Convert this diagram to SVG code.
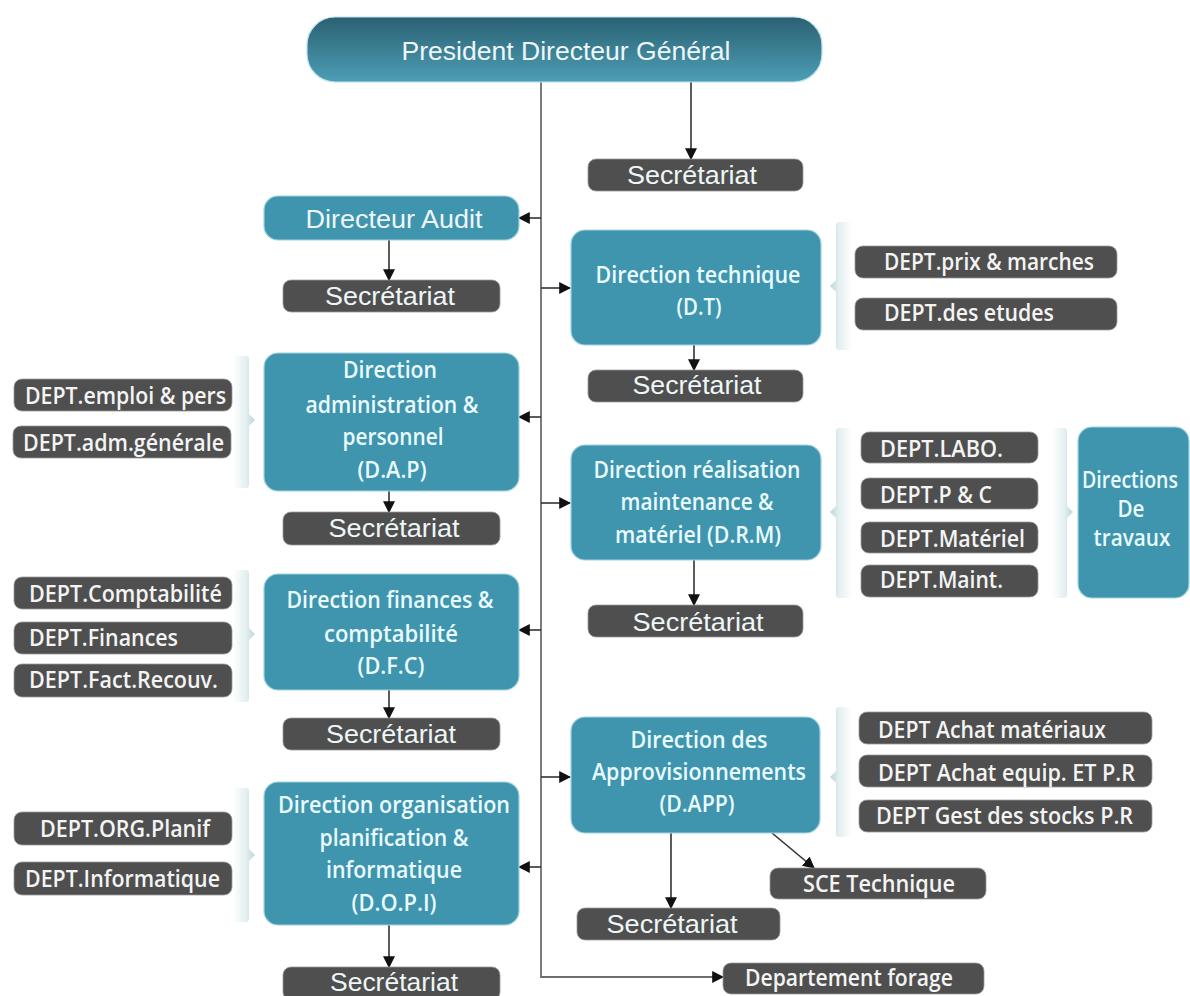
<svg xmlns="http://www.w3.org/2000/svg" width="1190" height="996" viewBox="0 0 1190 996">
<defs>
<linearGradient id="gPdg" x1="0" y1="0" x2="0" y2="1">
<stop offset="0" stop-color="#2b6172"/>
<stop offset="1" stop-color="#4c9eb6"/>
</linearGradient>
<linearGradient id="gBrL" x1="0" y1="0" x2="1" y2="0">
<stop offset="0" stop-color="#ffffff"/>
<stop offset="0.6" stop-color="#e3eff0"/>
<stop offset="1" stop-color="#b9d6da"/>
</linearGradient>
<linearGradient id="gBrR" x1="0" y1="0" x2="1" y2="0">
<stop offset="0" stop-color="#b9d6da"/>
<stop offset="0.4" stop-color="#e3eff0"/>
<stop offset="1" stop-color="#ffffff"/>
</linearGradient>
<marker id="ah" viewBox="0 0 10 10" refX="9" refY="5" markerWidth="12" markerHeight="12" markerUnits="userSpaceOnUse" orient="auto">
<path d="M0,0 L10,5 L0,10 z" fill="#111"/>
</marker>
<style>
.dir{fill:#3f94ae;stroke:#9fd3e0;stroke-width:1.2}
.dk{fill:#4f4f4f;stroke:#9a9a9a;stroke-width:0.8}
.tl{fill:#e9fbfe;font-family:"Open Sans","Noto Sans",sans-serif;font-size:23px;font-weight:600;text-anchor:middle}
.tg{fill:#eef6f8;font-family:"Liberation Sans",Arial,sans-serif;font-size:25px;text-anchor:middle}
.td{fill:#f4f4f4;font-family:"Open Sans","Noto Sans",sans-serif;font-size:23px;font-weight:600}
.tdm{text-anchor:middle}
.ln{fill:none;stroke:#6e6e6e;stroke-width:1.8}
.la{fill:none;stroke:#333;stroke-width:1.6;marker-end:url(#ah)}
</style>
</defs>
<rect width="1190" height="996" fill="#ffffff"/>

<!-- connectors -->
<g id="connectors">
<path class="ln" d="M541,82 V977 H712"/>
<path class="la" d="M712,977 H723"/>
<path class="la" d="M541,218 H519"/>
<path class="la" d="M541,288 H570"/>
<path class="la" d="M541,417 H519"/>
<path class="la" d="M541,503 H570"/>
<path class="la" d="M541,630 H519"/>
<path class="la" d="M541,777 H570"/>
<path class="la" d="M541,867 H519"/>
<path class="la" d="M691,82 V159"/>
<path class="la" d="M389,240 V280"/>
<path class="la" d="M389,491 V512"/>
<path class="la" d="M389,690 V718"/>
<path class="la" d="M389,925 V967"/>
<path class="la" d="M694,345 V370"/>
<path class="la" d="M694,560 V605"/>
<path class="la" d="M671,833 V908"/>
<path class="la" d="M772,833 L814,868"/>
</g>

<!-- brackets -->
<g id="brackets">
<path d="M233,356 H246 Q249,356 249,360 V414 L255,420 L249,426 V484 Q249,488 246,488 H233 z" fill="url(#gBrL)"/>
<path d="M233,570 H246 Q249,570 249,574 V628 L255,634 L249,640 V698 Q249,702 246,702 H233 z" fill="url(#gBrL)"/>
<path d="M233,788 H246 Q249,788 249,792 V849 L255,855 L249,861 V918 Q249,922 246,922 H233 z" fill="url(#gBrL)"/>
<path d="M852,222 H839 Q836,222 836,226 V280 L830,286 L836,292 V346 Q836,350 839,350 H852 z" fill="url(#gBrR)"/>
<path d="M852,428 H839 Q836,428 836,432 V506 L830,512 L836,518 V594 Q836,598 839,598 H852 z" fill="url(#gBrR)"/>
<path d="M1052,428 H1064 Q1067,428 1067,432 V506 L1073,512 L1067,518 V594 Q1067,598 1064,598 H1052 z" fill="url(#gBrL)"/>
<path d="M852,707 H839 Q836,707 836,711 V771 L830,777 L836,783 V833 Q836,837 839,837 H852 z" fill="url(#gBrR)"/>
</g>

<g id="pdg">
<rect x="307" y="17" width="515" height="65" rx="28" fill="url(#gPdg)" stroke="#b9e3ec" stroke-width="1.2"/>
<text class="tg" x="566" y="60" font-size="28" textLength="329" lengthAdjust="spacingAndGlyphs">President Directeur Général</text>
</g>
<g id="sec-pdg">
<rect class="dk" x="588" y="159" width="215" height="32" rx="8"/>
<text class="tg" x="692" y="184" textLength="130" lengthAdjust="spacingAndGlyphs">Secrétariat</text>
</g>

<g id="audit">
<rect class="dir" x="264" y="196" width="255" height="44" rx="14"/>
<text class="tg" x="394" y="228" font-size="26" textLength="177" lengthAdjust="spacingAndGlyphs">Directeur Audit</text>
</g>
<g id="sec-audit">
<rect class="dk" x="283" y="280" width="217" height="32" rx="8"/>
<text class="tg" x="390" y="305" textLength="130" lengthAdjust="spacingAndGlyphs">Secrétariat</text>
</g>

<g id="dt">
<rect class="dir" x="571" y="230" width="250" height="115" rx="14"/>
<text class="tl" x="698" y="283" textLength="205" lengthAdjust="spacingAndGlyphs">Direction technique</text>
<text class="tl" x="699" y="315" textLength="45" lengthAdjust="spacingAndGlyphs">(D.T)</text>
</g>
<g id="dt-dept1">
<rect class="dk" x="855" y="246" width="262" height="32" rx="8"/>
<text class="td" x="884" y="270" textLength="210" lengthAdjust="spacingAndGlyphs">DEPT.prix &amp; marches</text>
</g>
<g id="dt-dept2">
<rect class="dk" x="855" y="298" width="262" height="32" rx="8"/>
<text class="td" x="884" y="321" textLength="170" lengthAdjust="spacingAndGlyphs">DEPT.des etudes</text>
</g>
<g id="sec-dt">
<rect class="dk" x="588" y="370" width="215" height="32" rx="8"/>
<text class="tg" x="697" y="394" textLength="129" lengthAdjust="spacingAndGlyphs">Secrétariat</text>
</g>

<g id="dap">
<rect class="dir" x="264" y="353" width="255" height="138" rx="14"/>
<text class="tl" x="390" y="378" textLength="94" lengthAdjust="spacingAndGlyphs">Direction</text>
<text class="tl" x="392" y="413" textLength="173" lengthAdjust="spacingAndGlyphs">administration &amp;</text>
<text class="tl" x="393" y="445" textLength="101" lengthAdjust="spacingAndGlyphs">personnel</text>
<text class="tl" x="392" y="478" textLength="69" lengthAdjust="spacingAndGlyphs">(D.A.P)</text>
</g>
<g id="dap-dept1">
<rect class="dk" x="14" y="379" width="218" height="32" rx="8"/>
<text class="td" x="25" y="404" textLength="201" lengthAdjust="spacingAndGlyphs">DEPT.emploi &amp; pers</text>
</g>
<g id="dap-dept2">
<rect class="dk" x="13" y="426" width="218" height="32" rx="8"/>
<text class="td" x="23" y="451" textLength="201" lengthAdjust="spacingAndGlyphs">DEPT.adm.générale</text>
</g>
<g id="sec-dap">
<rect class="dk" x="283" y="512" width="217" height="33" rx="8"/>
<text class="tg" x="394" y="537" textLength="131" lengthAdjust="spacingAndGlyphs">Secrétariat</text>
</g>

<g id="drm">
<rect class="dir" x="571" y="445" width="250" height="115" rx="14"/>
<text class="tl" x="697" y="478" textLength="207" lengthAdjust="spacingAndGlyphs">Direction réalisation</text>
<text class="tl" x="697" y="510" textLength="153" lengthAdjust="spacingAndGlyphs">maintenance &amp;</text>
<text class="tl" x="698" y="543" textLength="166" lengthAdjust="spacingAndGlyphs">matériel (D.R.M)</text>
</g>
<g id="drm-dept1">
<rect class="dk" x="861" y="432" width="177" height="31" rx="8"/>
<text class="td" x="880" y="457" textLength="123" lengthAdjust="spacingAndGlyphs">DEPT.LABO.</text>
</g>
<g id="drm-dept2">
<rect class="dk" x="861" y="478" width="177" height="31" rx="8"/>
<text class="td" x="880" y="503" textLength="112" lengthAdjust="spacingAndGlyphs">DEPT.P &amp; C</text>
</g>
<g id="drm-dept3">
<rect class="dk" x="861" y="522" width="177" height="31" rx="8"/>
<text class="td" x="880" y="547" textLength="145" lengthAdjust="spacingAndGlyphs">DEPT.Matériel</text>
</g>
<g id="drm-dept4">
<rect class="dk" x="861" y="565" width="177" height="32" rx="8"/>
<text class="td" x="880" y="588" textLength="123" lengthAdjust="spacingAndGlyphs">DEPT.Maint.</text>
</g>
<g id="travaux">
<rect class="dir" x="1078" y="427" width="111" height="171" rx="14"/>
<text class="tl" x="1130" y="488" font-size="19" textLength="96" lengthAdjust="spacingAndGlyphs">Directions</text>
<text class="tl" x="1131" y="517" font-size="19" textLength="27" lengthAdjust="spacingAndGlyphs">De</text>
<text class="tl" x="1132" y="546" font-size="19" textLength="77" lengthAdjust="spacingAndGlyphs">travaux</text>
</g>
<g id="sec-drm">
<rect class="dk" x="588" y="605" width="215" height="32" rx="8"/>
<text class="tg" x="698" y="631" textLength="131" lengthAdjust="spacingAndGlyphs">Secrétariat</text>
</g>

<g id="dfc">
<rect class="dir" x="264" y="574" width="255" height="116" rx="14"/>
<text class="tl" x="390" y="608" textLength="207" lengthAdjust="spacingAndGlyphs">Direction finances &amp;</text>
<text class="tl" x="391" y="642" textLength="134" lengthAdjust="spacingAndGlyphs">comptabilité</text>
<text class="tl" x="391" y="674" textLength="67" lengthAdjust="spacingAndGlyphs">(D.F.C)</text>
</g>
<g id="dfc-dept1">
<rect class="dk" x="14" y="577" width="218" height="32" rx="8"/>
<text class="td" x="29" y="602" textLength="193" lengthAdjust="spacingAndGlyphs">DEPT.Comptabilité</text>
</g>
<g id="dfc-dept2">
<rect class="dk" x="14" y="622" width="218" height="32" rx="8"/>
<text class="td" x="29" y="646" textLength="149" lengthAdjust="spacingAndGlyphs">DEPT.Finances</text>
</g>
<g id="dfc-dept3">
<rect class="dk" x="14" y="664" width="218" height="33" rx="8"/>
<text class="td" x="29" y="688" textLength="189" lengthAdjust="spacingAndGlyphs">DEPT.Fact.Recouv.</text>
</g>
<g id="sec-dfc">
<rect class="dk" x="283" y="718" width="217" height="32" rx="8"/>
<text class="tg" x="391" y="743" textLength="130" lengthAdjust="spacingAndGlyphs">Secrétariat</text>
</g>

<g id="dapp">
<rect class="dir" x="571" y="717" width="249" height="116" rx="14"/>
<text class="tl" x="699" y="748" textLength="137" lengthAdjust="spacingAndGlyphs">Direction des</text>
<text class="tl" x="699" y="780" textLength="214" lengthAdjust="spacingAndGlyphs">Approvisionnements</text>
<text class="tl" x="697" y="812" textLength="75" lengthAdjust="spacingAndGlyphs">(D.APP)</text>
</g>
<g id="dapp-dept1">
<rect class="dk" x="859" y="712" width="293" height="32" rx="8"/>
<text class="td" x="878" y="738" textLength="228" lengthAdjust="spacingAndGlyphs">DEPT Achat matériaux</text>
</g>
<g id="dapp-dept2">
<rect class="dk" x="859" y="755" width="293" height="32" rx="8"/>
<text class="td" x="878" y="781" textLength="257" lengthAdjust="spacingAndGlyphs">DEPT Achat equip. ET P.R</text>
</g>
<g id="dapp-dept3">
<rect class="dk" x="859" y="800" width="293" height="32" rx="8"/>
<text class="td" x="876" y="824" textLength="257" lengthAdjust="spacingAndGlyphs">DEPT Gest des stocks P.R</text>
</g>
<g id="sce">
<rect class="dk" x="770" y="868" width="216" height="31" rx="8"/>
<text class="td tdm" x="879" y="892" textLength="152" lengthAdjust="spacingAndGlyphs">SCE Technique</text>
</g>
<g id="sec-dapp">
<rect class="dk" x="577" y="908" width="203" height="32" rx="8"/>
<text class="tg" x="672" y="933" textLength="131" lengthAdjust="spacingAndGlyphs">Secrétariat</text>
</g>
<g id="forage">
<rect class="dk" x="723" y="963" width="261" height="31" rx="8"/>
<text class="td tdm" x="849" y="986" textLength="208" lengthAdjust="spacingAndGlyphs">Departement forage</text>
</g>

<g id="dopi">
<rect class="dir" x="264" y="782" width="255" height="143" rx="14"/>
<text class="tl" x="394" y="813" textLength="232" lengthAdjust="spacingAndGlyphs">Direction organisation</text>
<text class="tl" x="394" y="846" textLength="149" lengthAdjust="spacingAndGlyphs">planification &amp;</text>
<text class="tl" x="394" y="878" textLength="136" lengthAdjust="spacingAndGlyphs">informatique</text>
<text class="tl" x="394" y="911" textLength="85" lengthAdjust="spacingAndGlyphs">(D.O.P.I)</text>
</g>
<g id="dopi-dept1">
<rect class="dk" x="14" y="812" width="218" height="33" rx="8"/>
<text class="td tdm" x="125" y="837" textLength="170" lengthAdjust="spacingAndGlyphs">DEPT.ORG.Planif</text>
</g>
<g id="dopi-dept2">
<rect class="dk" x="14" y="862" width="218" height="33" rx="8"/>
<text class="td" x="25" y="887" textLength="195" lengthAdjust="spacingAndGlyphs">DEPT.Informatique</text>
</g>
<g id="sec-dopi">
<rect class="dk" x="283" y="967" width="217" height="33" rx="8"/>
<text class="tg" x="394" y="991" textLength="128" lengthAdjust="spacingAndGlyphs">Secrétariat</text>
</g>
</svg>
